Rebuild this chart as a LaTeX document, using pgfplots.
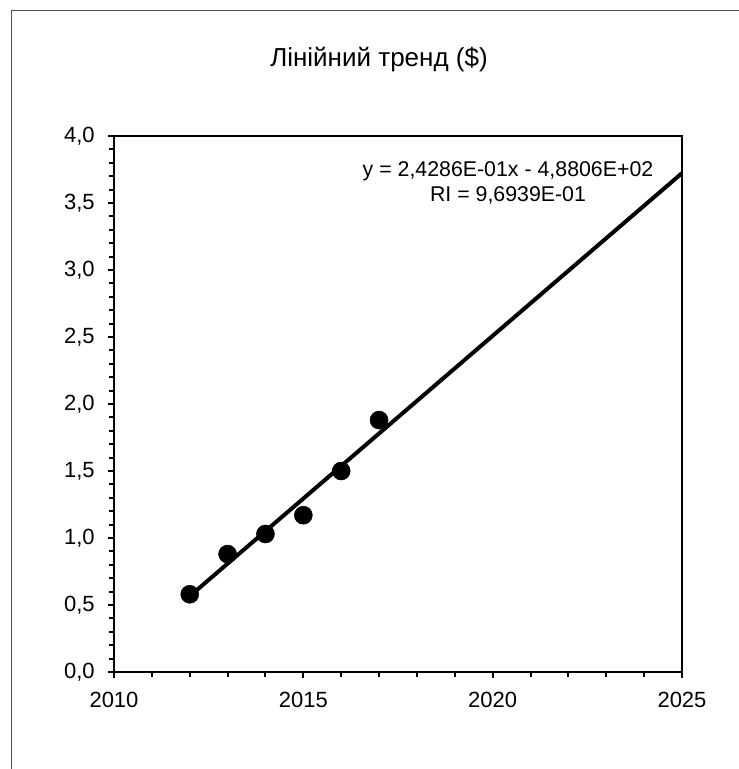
\documentclass[border=0pt]{standalone}
\usepackage{pgfplots}
\pgfplotsset{compat=1.18}
\usepackage{fontspec}
\setmainfont{Liberation Sans}
\begin{document}
\begin{tikzpicture}
\useasboundingbox (0,0) rectangle (554.25pt,576.75pt);
\draw[line width=0.9pt, black!70] (8.625pt,-30pt) -- (8.625pt,568.875pt) -- (600pt,568.875pt);
\node[anchor=base, font=\fontsize{19.5}{23}\selectfont] at (284.25pt,526.5pt) {Лінійний тренд (\$)};
\begin{axis}[
  at={(85.5pt,72.75pt)}, anchor=south west,
  scale only axis, width=426pt, height=402pt,
  xmin=2010, xmax=2025, ymin=0, ymax=4,
  xtick={2010,2015,2020,2025}, ytick={0,0.5,...,4},
  minor x tick num=4, minor y tick num=4,
  tick align=outside, xtick pos=bottom, ytick pos=left,
  major tick length=4.5pt, minor tick length=3.75pt,
  every tick/.style={black, line width=1.5pt},
  axis line style={line width=1.5pt},
  /pgf/number format/assume math mode=true,
  tick label style={font=\fontsize{16.5}{19}\selectfont},
  xticklabel style={/pgf/number format/1000 sep={}, yshift=-7pt},
  yticklabel style={xshift=-6.5pt, /pgf/number format/.cd, use comma, fixed, fixed zerofill, precision=1},
]
\addplot[black, line width=3pt, no marks] coordinates {(2012,0.566) (2025,3.723)};
\addplot[only marks, mark=*, mark size=6.75pt, black] coordinates {
(2012,0.58) (2013,0.88) (2014,1.03) (2015,1.17) (2016,1.50) (2017,1.88)};
\end{axis}
\node[anchor=base, font=\fontsize{16}{19}\selectfont] at (381pt,444pt) {y = 2,4286E-01x - 4,8806E+02};
\node[anchor=base, font=\fontsize{16}{19}\selectfont] at (381pt,425.5pt) {RI = 9,6939E-01};
\end{tikzpicture}
\end{document}
